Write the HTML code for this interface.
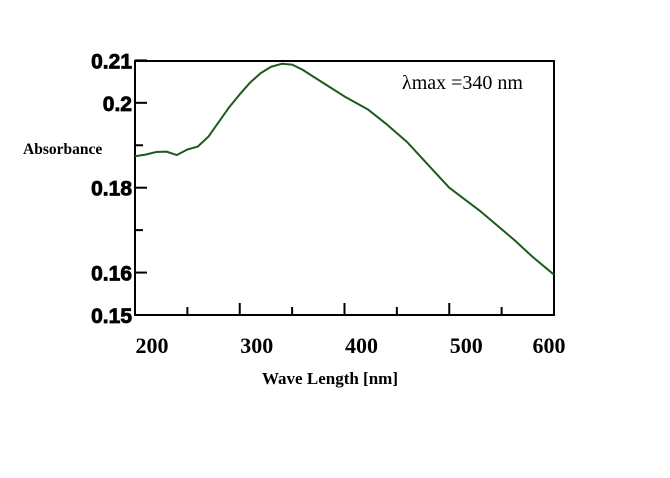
<!DOCTYPE html>
<html><head><meta charset="utf-8"><style>
body{margin:0;background:#fff;width:670px;height:478px;overflow:hidden}
svg{display:block}
</style></head><body>
<svg width="670" height="478" id="c">
<text x="23" y="154" font-family="Liberation Serif,serif" font-weight="bold" font-size="15.5">Absorbance</text>
<text x="330" y="384" text-anchor="middle" font-family="Liberation Serif,serif" font-weight="bold" font-size="17">Wave Length [nm]</text>
<text x="402" y="89" font-family="Liberation Serif,serif" font-size="20">λmax =340 nm</text>
</svg>
<script>
const wavelengths=[200,210,220,230,240,250,260,270,280,290,300,310,320,330,340,350,360,370,386,400,422,440,460,482,500,530,562,580,600];
const absorbance=[0.1874,0.1878,0.1884,0.1885,0.1877,0.1890,0.1897,0.1920,0.1955,0.1990,0.2020,0.2048,0.2070,0.2085,0.2092,0.2090,0.2078,0.2062,0.2037,0.2015,0.1985,0.1950,0.1907,0.1848,0.1800,0.1744,0.1677,0.1636,0.1595];
const yTickValues=[0.15,0.16,0.17,0.18,0.19,0.2,0.21];
const yTickLabels=["0.15","0.16","","0.18","","0.2","0.21"];
const xTickValues=[200,250,300,350,400,450,500,550,600];
const xTickLabels=["200","","300","","400","","500","","600"];
const L=135,R=554,T=61,B=315;
const xs=v=>L+(v-200)/400*(R-L);
const ys=v=>B-(v-0.15)/0.06*(B-T+0.6);
const NS="http://www.w3.org/2000/svg",svg=document.getElementById('c');
function mk(t,a){const e=document.createElementNS(NS,t);for(const k in a)e.setAttribute(k,a[k]);svg.appendChild(e);return e;}
const fr=mk('rect',{x:L,y:T,width:R-L,height:B-T,fill:'none',stroke:'#000','stroke-width':2});


yTickValues.forEach((v,i)=>{const y=ys(v);const len=yTickLabels[i]?12:8;
const t=mk('line',{x1:L,x2:L+len,y1:y,y2:y,stroke:'#000','stroke-width':2});


if(yTickLabels[i]){const tx=mk('text',{x:L-3,y:y+8,'text-anchor':'end','font-family':'Liberation Sans,sans-serif','font-weight':'bold','font-size':21,'stroke':'#000','stroke-width':0.8});tx.textContent=yTickLabels[i];

}});
xTickValues.forEach((v,i)=>{const x=xs(v);const len=xTickLabels[i]?12:8;
if(v>200&&v<600){const t=mk('line',{x1:x,x2:x,y1:B,y2:B-len,stroke:'#000','stroke-width':2});

}
if(xTickLabels[i]){const tx=mk('text',{x:x+(v==600?-5:17),y:353,'text-anchor':'middle','font-family':'Liberation Serif,serif','font-weight':'bold','font-size':22});tx.textContent=xTickLabels[i];

}});
const p=mk('polyline',{points:wavelengths.map((w,i)=>xs(w)+','+ys(absorbance[i])).join(' '),fill:'none',stroke:'#1d5a1d','stroke-width':2,'stroke-linejoin':'round'});


</script>
</body></html>
